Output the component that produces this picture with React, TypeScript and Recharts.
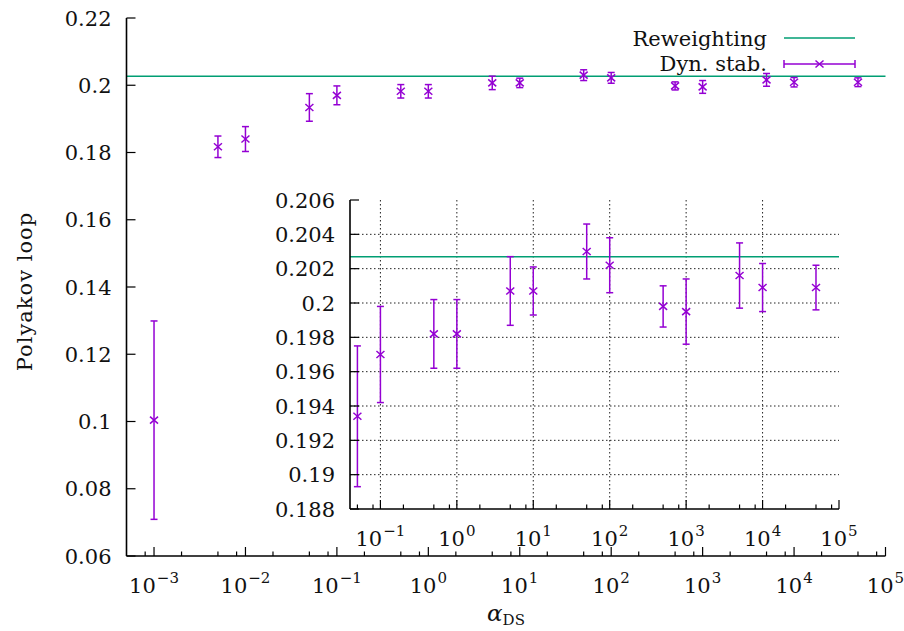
import React from "react";
import { CartesianGrid, ComposedChart, ErrorBar, ReferenceLine, Scatter, XAxis, YAxis } from "recharts";

// dynamic stabilisation runs, alpha_DS values
const alpha = [1e-3, 5e-3, 1e-2, 5e-2, 1e-1, 0.5, 1, 5, 10, 50, 100, 500, 1000, 5000, 1e4, 5e4];
const polyakov = [0.1004, 0.1817, 0.184, 0.1934, 0.197, 0.1982, 0.1982, 0.2007, 0.2007, 0.203, 0.2022, 0.1998, 0.1995, 0.2016, 0.2009, 0.2009];
const polyakovErr = [0.0295, 0.0032, 0.0037, 0.0041, 0.0028, 0.002, 0.002, 0.002, 0.0014, 0.0016, 0.0016, 0.0012, 0.0019, 0.0019, 0.0014, 0.0013];
// reweighting result (horizontal line)
const reweighting = 0.2027;

const mainXDomain = [5e-4, 1e5];
const insetXDomain = [0.04, 1e5];
const mainYTicks = [0.06, 0.08, 0.1, 0.12, 0.14, 0.16, 0.18, 0.2, 0.22];
const insetYTicks = [0.188, 0.19, 0.192, 0.194, 0.196, 0.198, 0.2, 0.202, 0.204, 0.206];
const decades = [1e-4, 1e-3, 1e-2, 1e-1, 1, 10, 100, 1e3, 1e4, 1e5];
const minorSteps = [1, 2, 5, 8];

const FONT = "DejaVu Serif";
const PURPLE = "#9400d3";
const GREEN = "#009e73";
const FS = 21;
const SUP = 15;

const data = alpha.map((x, i) => ({ x, y: polyakov[i], err: polyakovErr[i] }));
const insetData = data.filter((d) => d.x >= insetXDomain[0]);

const logTicks = (lo: number, hi: number) =>
  decades.flatMap((d) => minorSteps.map((m) => m * d)).filter((v) => v > lo * 1.0001 && v <= hi * 1.0001);

const isDecade = (v: number) => Math.abs(Math.log10(v) - Math.round(Math.log10(v))) < 1e-6;
const fmt = (v: number) => String(Number(v.toFixed(4)));

function XTick(props: any) {
  const { x, y, payload, side, label } = props;
  const v = payload.value;
  const major = isDecade(v);
  const dir = side === "top" ? 1 : -1;
  const e = Math.round(Math.log10(v));
  return (
    <g>
      <line x1={x} x2={x} y1={y} y2={y + dir * (major ? 9 : 4.5)} stroke="#000" strokeWidth={1.2} />
      {label && major && (
        <text x={x} y={y + 37} textAnchor="middle" fontFamily={FONT} fontSize={FS} fill="#111">
          10
          <tspan dy={-10} dx={1} fontSize={SUP}>
            {e < 0 ? "\u2212" + -e : String(e)}
          </tspan>
        </text>
      )}
    </g>
  );
}

function YTick(props: any) {
  const { x, y, payload, side, label } = props;
  const dir = side === "right" ? -1 : 1;
  return (
    <g>
      <line x1={x} x2={x + dir * 9} y1={y} y2={y} stroke="#000" strokeWidth={1.2} />
      {label && (
        <text x={x - 15} y={y + 7.5} textAnchor="end" fontFamily={FONT} fontSize={FS} fill="#111">
          {fmt(payload.value)}
        </text>
      )}
    </g>
  );
}

function Cross(props: any) {
  const { cx, cy } = props;
  if (cx == null || cy == null) return null;
  return (
    <g stroke={PURPLE} strokeWidth={1.5}>
      <line x1={cx - 4} y1={cy - 3.5} x2={cx + 4} y2={cy + 3.5} />
      <line x1={cx - 4} y1={cy + 3.5} x2={cx + 4} y2={cy - 3.5} />
    </g>
  );
}

const frame = { stroke: "#000", strokeWidth: 1.6 };

function Axes({ xDomain, yDomain, yTicks, xh, yw }: { xDomain: number[]; yDomain: number[]; yTicks: number[]; xh: number; yw: number }) {
  const xt = logTicks(xDomain[0], xDomain[1]);
  return [
    <XAxis key="b" xAxisId="b" dataKey="x" type="number" scale="log" domain={xDomain} allowDataOverflow ticks={xt} height={xh}
      interval={0} tickSize={0} tickMargin={0} axisLine={frame} tick={(p: any) => <XTick {...p} side="bottom" label />} />,
    <XAxis key="t" xAxisId="t" orientation="top" type="number" scale="log" domain={xDomain} allowDataOverflow ticks={xt}
      interval={0} tickSize={0} tickMargin={0} height={0} axisLine={frame} tick={(p: any) => <XTick {...p} side="top" />} />,
    <YAxis key="l" yAxisId="l" type="number" domain={yDomain} allowDataOverflow ticks={yTicks} width={yw}
      interval={0} tickSize={0} tickMargin={0} axisLine={frame} tick={(p: any) => <YTick {...p} side="left" label />} />,
    <YAxis key="r" yAxisId="r" orientation="right" type="number" domain={yDomain} allowDataOverflow ticks={yTicks}
      interval={0} tickSize={0} tickMargin={0} width={0} axisLine={frame} tick={(p: any) => <YTick {...p} side="right" />} />,
  ];
}

function Series({ rows }: { rows: typeof data }) {
  return (
    <Scatter xAxisId="b" yAxisId="l" data={rows} dataKey="y" shape={<Cross />} isAnimationActive={false}>
      <ErrorBar dataKey="err" direction="y" width={3.5} stroke={PURPLE} strokeWidth={1.5} isAnimationActive={false} />
    </Scatter>
  );
}

export default function App() {
  return (
    <div style={{ position: "relative", width: 904, height: 631, background: "#fff" }}>
      <style>{"body{margin:0}"}</style>
      <div style={{ position: "absolute", left: 0, top: 0 }}>
        <ComposedChart width={904} height={631} margin={{ top: 18, right: 18.5, bottom: 0, left: 0 }}>
          {Axes({ xDomain: mainXDomain, yDomain: [0.06, 0.22], yTicks: mainYTicks, xh: 75, yw: 126.5 })}
          <ReferenceLine xAxisId="b" yAxisId="l" y={reweighting} stroke={GREEN} strokeWidth={1.5} />
          {Series({ rows: data })}
        </ComposedChart>
      </div>
      <div style={{ position: "absolute", left: 0, top: 0 }}>
        <ComposedChart width={904} height={631} margin={{ top: 200, right: 65, bottom: 0, left: 0 }}>
          <CartesianGrid xAxisId="b" yAxisId="l" fill="#fff" stroke="#222" strokeDasharray="1.5 2.5"
            verticalValues={[0.1, 1, 10, 100, 1000, 10000]} horizontalValues={insetYTicks.slice(1, -1)} />
          {Axes({ xDomain: insetXDomain, yDomain: [0.188, 0.206], yTicks: insetYTicks, xh: 122, yw: 350 })}
          <ReferenceLine xAxisId="b" yAxisId="l" y={reweighting} stroke={GREEN} strokeWidth={1.5} />
          {Series({ rows: insetData })}
        </ComposedChart>
      </div>
      <svg width={904} height={631} style={{ position: "absolute", left: 0, top: 0, pointerEvents: "none" }} fontFamily={FONT} fill="#111">
        <text x={31.5} y={291.5} transform="rotate(-90 31.5 291.5)" textAnchor="middle" fontSize={FS} letterSpacing={1}>
          Polyakov loop
        </text>
        <text x={506} y={621} textAnchor="middle" fontSize={FS + 2}>
          <tspan fontStyle="italic">α</tspan>
          <tspan dy={4} fontSize={SUP}>DS</tspan>
        </text>
        <text x={767} y={46} textAnchor="end" fontSize={FS}>Reweighting</text>
        <line x1={784} x2={855} y1={38} y2={38} stroke={GREEN} strokeWidth={1.5} />
        <text x={767} y={71} textAnchor="end" fontSize={FS}>Dyn. stab.</text>
        <g stroke={PURPLE} strokeWidth={1.5}>
          <line x1={784} x2={855} y1={64} y2={64} />
          <line x1={784} x2={784} y1={60} y2={68} />
          <line x1={855} x2={855} y1={60} y2={68} />
          <line x1={815.5} y1={60.5} x2={823.5} y2={67.5} />
          <line x1={815.5} y1={67.5} x2={823.5} y2={60.5} />
        </g>
      </svg>
    </div>
  );
}
